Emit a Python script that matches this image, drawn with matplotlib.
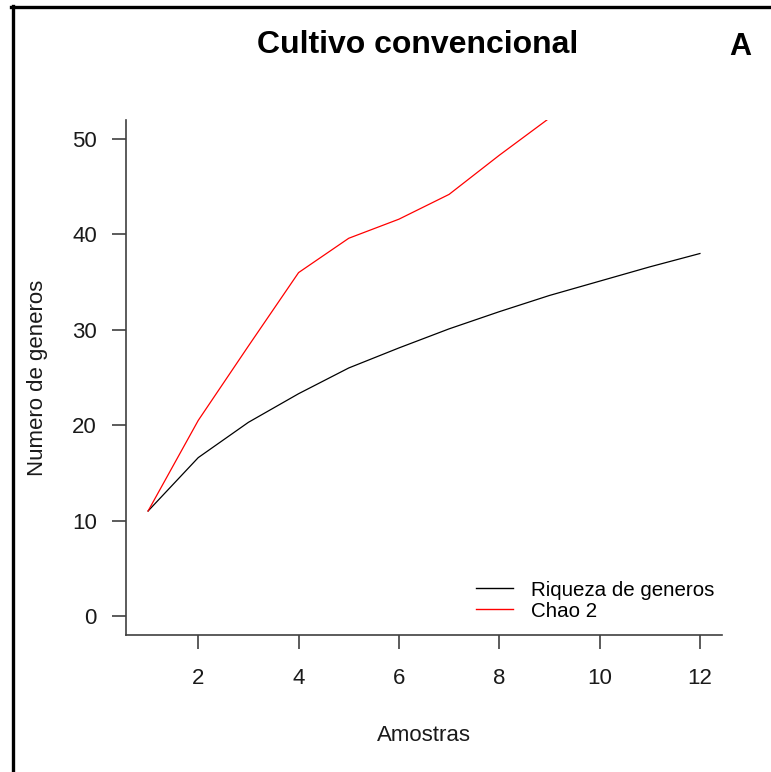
import numpy as np
import matplotlib
matplotlib.use("Agg")
import matplotlib.pyplot as plt
from matplotlib.lines import Line2D

plt.rcParams['font.family'] = ['Liberation Sans', 'DejaVu Sans']

# data
amostras = [1, 2, 3, 4, 5, 6, 7, 8, 9, 10, 11, 12]
riqueza = [11, 16.6, 20.3, 23.3, 26.0, 28.1, 30.1, 31.9, 33.6, 35.1, 36.6, 38.0]
amostras_chao = [1, 2, 3, 4, 5, 6, 7, 8, 9]
chao2 = [11, 20.5, 28.3, 36.0, 39.6, 41.6, 44.2, 48.3, 52.2]
x_ticks = [2, 4, 6, 8, 10, 12]
y_ticks = [0, 10, 20, 30, 40, 50]

fig = plt.figure(figsize=(7.71, 7.72), dpi=100)
ax = fig.add_axes([126 / 771, 1 - 635 / 772, 596 / 771, 515 / 772])

ax.plot(amostras, riqueza, color='black', lw=0.9, label='Riqueza de generos')
ax.plot(amostras_chao, chao2, color='red', lw=0.9, label='Chao 2')

ax.set_xlim(0.56, 12.44)
ax.set_ylim(-2, 52)
ax.set_xticks(x_ticks)
ax.set_yticks(y_ticks)

axis_col = '#404040'
for side in ['top', 'right']:
    ax.spines[side].set_visible(False)
for side in ['left', 'bottom']:
    ax.spines[side].set_color(axis_col)
    ax.spines[side].set_linewidth(1.2)
ax.tick_params(axis='both', colors=axis_col, length=10, width=1.2,
               labelsize=16, labelcolor='#1a1a1a')
ax.tick_params(axis='x', pad=14)
ax.tick_params(axis='y', pad=11)

ax.set_xlabel('Amostras', fontsize=16, color='#1a1a1a', labelpad=26)
ax.set_ylabel('Numero de generos', fontsize=16, color='#1a1a1a', labelpad=17)

handles = [Line2D([], [], color='black', lw=1.0), Line2D([], [], color='red', lw=1.0)]
ax.legend(handles, ['Riqueza de generos', 'Chao 2'], loc='lower right',
          bbox_to_anchor=(1.014, -0.004), frameon=False, fontsize=14.8,
          handlelength=1.8, handletextpad=0.85, labelspacing=0.1,
          borderaxespad=0.4)

fig.text(418 / 771, 1 - 45 / 772, 'Cultivo convencional', fontsize=23,
         fontweight='bold', ha='center', va='center')
fig.text(740 / 771, 1 - 47 / 772, 'A', fontsize=22, fontweight='bold',
         ha='center', va='center')

# outer frame, cut at right and bottom like the reference
fig.add_artist(Line2D([12.5 / 771, 12.5 / 771], [0, 1 - 5.5 / 772],
                      color='black', lw=2.4, transform=fig.transFigure))
fig.add_artist(Line2D([11 / 771, 1], [1 - 6.5 / 772, 1 - 6.5 / 772],
                      color='black', lw=2.4, transform=fig.transFigure))

fig.savefig('out.png', dpi=100)
